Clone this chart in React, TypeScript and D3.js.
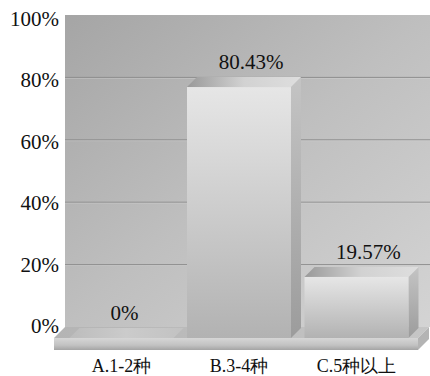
import React from "react";
import * as d3 from "d3";

// Share of respondents by number of kinds
const categories = ["A.1-2种", "B.3-4种", "C.5种以上"];
const values = [0, 80.43, 19.57];
const valueLabels = ["0%", "80.43%", "19.57%"];
const yTicks = [0, 20, 40, 60, 80, 100];

const W = 430;
const H = 376;
const FONT = "Liberation Serif";

export default function App() {
  // front plane (bars) and back plane (wall) share the value domain
  const yFront = d3.scaleLinear().domain([0, 100]).range([338, 26]);
  const yWall = d3.scaleLinear().domain([0, 100]).range([327, 15]);
  const yLabel = d3.scaleLinear().domain([0, 100]).range([333, 26]);

  const x = d3
    .scaleBand<string>()
    .domain(categories)
    .range([54, 424])
    .paddingInner(0.115)
    .paddingOuter(0.132);

  const depth = 11; // floor / wall depth
  const bd = 10; // bar depth
  const floorL = 54;
  const floorR = 418;
  const wallL = floorL + depth;
  const wallR = 430;
  const base = yFront(0);
  const wallBase = yWall(0);

  const pts = (p: [number, number][]) => p.map((d) => d.join(",")).join(" ");

  return (
    <svg
      width={W}
      height={H}
      style={{ position: "absolute", left: 0, top: 0, background: "#fff" }}
    >
      <defs>
        <linearGradient id="wall" x1="0" y1="0" x2="1" y2="1">
          <stop offset="0" stopColor="#a5a5a5" />
          <stop offset="0.5" stopColor="#bfbfbf" />
          <stop offset="1" stopColor="#d4d4d4" />
        </linearGradient>
        <linearGradient id="floorTop" x1="0" y1="0" x2="1" y2="0">
          <stop offset="0" stopColor="#b4b4b4" />
          <stop offset="1" stopColor="#c6c6c6" />
        </linearGradient>
        <linearGradient id="floorFront" x1="0" y1="0" x2="0" y2="1">
          <stop offset="0" stopColor="#d6d6d6" />
          <stop offset="0.6" stopColor="#c2c2c2" />
          <stop offset="1" stopColor="#a4a4a4" />
        </linearGradient>
        <linearGradient id="barFront" x1="0" y1="0" x2="0" y2="1">
          <stop offset="0" stopColor="#e6e6e6" />
          <stop offset="1" stopColor="#b2b2b2" />
        </linearGradient>
        <linearGradient id="barSide" x1="0" y1="0" x2="0" y2="1">
          <stop offset="0" stopColor="#c4c4c4" />
          <stop offset="1" stopColor="#9c9c9c" />
        </linearGradient>
        <linearGradient id="barTop" x1="0" y1="0" x2="1" y2="0">
          <stop offset="0" stopColor="#999999" />
          <stop offset="0.5" stopColor="#d2d2d2" />
          <stop offset="1" stopColor="#dedede" />
        </linearGradient>
        <linearGradient id="zeroTop" x1="0" y1="0" x2="1" y2="0">
          <stop offset="0" stopColor="#bcbcbc" />
          <stop offset="0.5" stopColor="#cbcbcb" />
          <stop offset="1" stopColor="#c2c2c2" />
        </linearGradient>
      </defs>

      {/* back wall */}
      <rect x={wallL} y={yWall(100)} width={wallR - wallL} height={wallBase - yWall(100)} fill="url(#wall)" />
      {yTicks
        .filter((t) => t > 0 && t < 100)
        .map((t) => (
          <g key={t}>
            <line x1={wallL} x2={wallR} y1={yWall(t)} y2={yWall(t)} stroke="#8e8e8e" strokeWidth={1} />
            <line x1={wallL} x2={wallR} y1={yWall(t) + 1} y2={yWall(t) + 1} stroke="#d8d8d8" strokeWidth={0.6} opacity={0.6} />
          </g>
        ))}

      {/* floor */}
      <polygon
        points={pts([
          [floorL, base],
          [floorR, base],
          [floorR + depth, wallBase],
          [wallL, wallBase],
        ])}
        fill="url(#floorTop)"
      />
      <rect x={floorL} y={base} width={floorR - floorL} height={12} fill="url(#floorFront)" />
      <polygon
        points={pts([
          [floorR, base],
          [floorR + depth, wallBase],
          [floorR + depth, wallBase + 12],
          [floorR, base + 12],
        ])}
        fill="#b4b4b4"
      />

      {/* bars */}
      {categories.map((c, i) => {
        const x0 = x(c)!;
        const w = x.bandwidth();
        const y0 = yFront(values[i]);
        const top: [number, number][] = [
          [x0, y0],
          [x0 + w, y0],
          [x0 + w + bd, y0 - bd],
          [x0 + bd, y0 - bd],
        ];
        if (values[i] === 0) {
          return <polygon key={c} points={pts(top)} fill="url(#zeroTop)" />;
        }
        return (
          <g key={c}>
            <polygon
              points={pts([
                [x0 + w, y0],
                [x0 + w + bd, y0 - bd],
                [x0 + w + bd, base - bd],
                [x0 + w, base],
              ])}
              fill="url(#barSide)"
            />
            <polygon points={pts(top)} fill="url(#barTop)" />
            <rect x={x0} y={y0} width={w} height={base - y0} fill="url(#barFront)" />
          </g>
        );
      })}

      {/* value labels */}
      {categories.map((c, i) => (
        <text
          key={c}
          x={x(c)! + x.bandwidth() / 2 + (values[i] === 0 ? 3 : bd + 2)}
          y={yFront(values[i]) - bd - 8}
          textAnchor="middle"
          fontFamily={FONT}
          fontSize={21}
          fill="#111"
        >
          {valueLabels[i]}
        </text>
      ))}

      {/* y axis tick labels */}
      {yTicks.map((t) => (
        <text key={t} x={59} y={yLabel(t)} textAnchor="end" fontFamily={FONT} fontSize={21} fill="#111">
          {`${t}%`}
        </text>
      ))}

      {/* category labels */}
      {categories.map((c) => (
        <text key={c} x={x(c)! + x.bandwidth() / 2} y={372} textAnchor="middle" fontFamily={FONT} fontSize={18} fill="#111">
          {c}
        </text>
      ))}
    </svg>
  );
}
